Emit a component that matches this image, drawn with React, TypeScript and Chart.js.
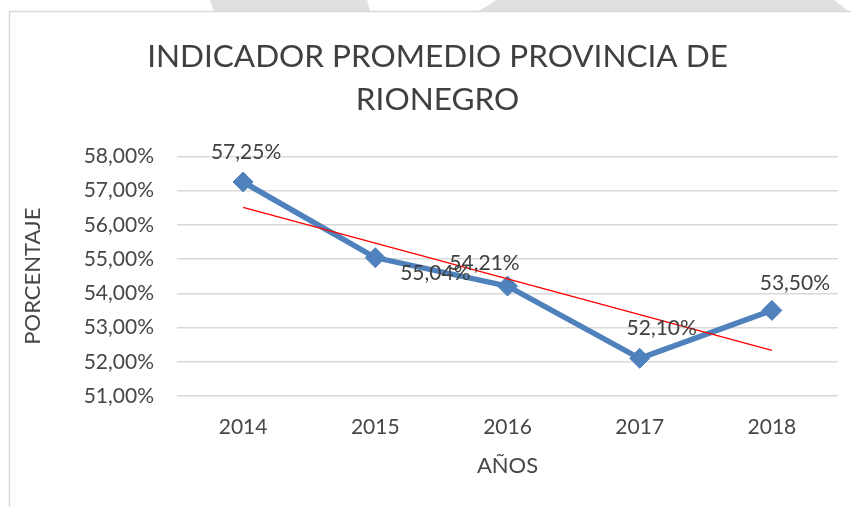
import React, { useEffect, useRef } from 'react';
import { Chart, registerables } from 'chart.js';

Chart.register(...registerables);

const years = ['2014', '2015', '2016', '2017', '2018'];
const values = [57.25, 55.04, 54.21, 52.1, 53.5];
const yTicks = [51, 52, 53, 54, 55, 56, 57, 58];
const titleLines = ['INDICADOR PROMEDIO PROVINCIA DE', 'RIONEGRO'];
const yTitle = 'PORCENTAJE';
const xTitle = 'AÑOS';

const FONT = 'Lato, "Open Sans", sans-serif';
const TEXT = '#474747';

function fmt(v: number): string {
  return v.toFixed(2).replace('.', ',') + '%';
}

// Linear (least-squares) trendline of the series, as in the spreadsheet
function linearTrend(vals: number[]): number[] {
  const n = vals.length;
  const mx = (n - 1) / 2;
  const my = vals.reduce((a, b) => a + b, 0) / n;
  let num = 0;
  let den = 0;
  vals.forEach((v, i) => {
    num += (i - mx) * (v - my);
    den += (i - mx) * (i - mx);
  });
  const slope = num / den;
  return vals.map((_, i) => my + slope * (i - mx));
}

const backdropPlugin = {
  id: 'backdrop',
  beforeDraw(chart: any) {
    const ctx = chart.ctx;
    ctx.save();
    ctx.fillStyle = '#ffffff';
    ctx.fillRect(0, 0, chart.width, chart.height);
    // light grey page decoration above the chart frame
    ctx.fillStyle = '#e0e0e0';
    ctx.beginPath();
    ctx.moveTo(210, 0);
    ctx.lineTo(367, 0);
    ctx.lineTo(370, 11);
    ctx.lineTo(214, 11);
    ctx.closePath();
    ctx.fill();
    ctx.beginPath();
    ctx.moveTo(496, 0);
    ctx.lineTo(834, 0);
    ctx.quadraticCurveTo(842, 6, 848, 11);
    ctx.lineTo(478, 11);
    ctx.quadraticCurveTo(488, 6, 496, 0);
    ctx.closePath();
    ctx.fill();
    // chart frame
    ctx.strokeStyle = '#d9d9d9';
    ctx.lineWidth = 1.5;
    ctx.beginPath();
    ctx.moveTo(9.5, chart.height);
    ctx.lineTo(9.5, 11.5);
    ctx.lineTo(chart.width, 11.5);
    ctx.stroke();
    ctx.restore();
  },
};

const pointLabelsPlugin = {
  id: 'pointLabels',
  afterDatasetsDraw(chart: any, _args: any, opts: any) {
    const meta = chart.getDatasetMeta(opts.datasetIndex);
    const ctx = chart.ctx;
    ctx.save();
    ctx.font = `${opts.size}px ${FONT}`;
    ctx.fillStyle = opts.color;
    ctx.textAlign = 'center';
    ctx.textBaseline = 'middle';
    meta.data.forEach((pt: any, i: number) => {
      const off = opts.offsets[i] || [0, -28];
      ctx.fillText(fmt(values[i]), pt.x + off[0], pt.y + off[1]);
    });
    ctx.restore();
  },
};

export default function App() {
  const ref = useRef<HTMLCanvasElement | null>(null);

  useEffect(() => {
    if (!ref.current) return;
    const chart = new Chart(ref.current, {
      type: 'line',
      data: {
        labels: years,
        datasets: [
          {
            label: 'Tendencia',
            data: linearTrend(values),
            borderColor: '#ff0000',
            borderWidth: 1.5,
            pointRadius: 0,
            fill: false,
            tension: 0,
            order: 0,
          },
          {
            label: 'Indicador',
            data: values,
            borderColor: '#4f81bd',
            backgroundColor: '#4f81bd',
            borderWidth: 5.5,
            pointStyle: 'rectRot',
            pointRadius: 10,
            pointBackgroundColor: '#4f81bd',
            pointBorderColor: '#4f81bd',
            pointBorderWidth: 1,
            borderJoinStyle: 'round',
            fill: false,
            tension: 0,
            order: 1,
          },
        ],
      },
      options: {
        responsive: false,
        animation: false,
        layout: { padding: { left: 24, right: 0, top: 0, bottom: 0 } },
        plugins: {
          legend: { display: false },
          tooltip: { enabled: false },
          title: {
            display: true,
            text: titleLines,
            color: '#404040',
            font: { family: FONT, size: 31.5, weight: 'normal', lineHeight: 1.37 },
            padding: { top: 35, bottom: 35 },
          },
          pointLabels: {
            datasetIndex: 1,
            size: 21,
            color: '#404040',
            offsets: [
              [3, -30],
              [60, 16],
              [-23, -23],
              [22, -30],
              [23, -27],
            ],
          },
        } as any,
        scales: {
          x: {
            offset: true,
            grid: { display: false, drawTicks: false },
            border: { display: false },
            ticks: { color: TEXT, font: { family: FONT, size: 21 }, padding: 19 },
            title: {
              display: true,
              text: xTitle,
              color: TEXT,
              font: { family: FONT, size: 22 },
              padding: { top: 0, bottom: 28 },
            },
            afterFit: (s: any) => {
              s.height = 111;
            },
          },
          y: {
            min: 51,
            max: 58,
            afterBuildTicks: (s: any) => {
              s.ticks = yTicks.map((v) => ({ value: v }));
            },
            grid: { color: '#d9d9d9', lineWidth: 1.5, drawTicks: false },
            border: { display: false },
            ticks: {
              color: TEXT,
              font: { family: FONT, size: 21 },
              padding: 23,
              callback: (v: any) => fmt(Number(v)),
            },
            title: {
              display: true,
              text: yTitle,
              color: TEXT,
              font: { family: FONT, size: 22, lineHeight: 0.8 },
              padding: { top: 0, bottom: 0 },
            },
            afterFit: (s: any) => {
              s.width = 153;
            },
          },
          y2: {
            position: 'right',
            display: true,
            grid: { display: false, drawTicks: false },
            border: { display: false },
            ticks: { display: false },
            afterFit: (s: any) => {
              s.width = 13;
            },
          },
        },
      },
      plugins: [backdropPlugin, pointLabelsPlugin],
    } as any);
    return () => chart.destroy();
  }, []);

  return (
    <div style={{ position: 'fixed', left: 0, top: 0, width: 851, height: 507, background: '#fff' }}>
      <canvas ref={ref} width={851} height={507} style={{ display: 'block', width: 851, height: 507 }} />
    </div>
  );
}
